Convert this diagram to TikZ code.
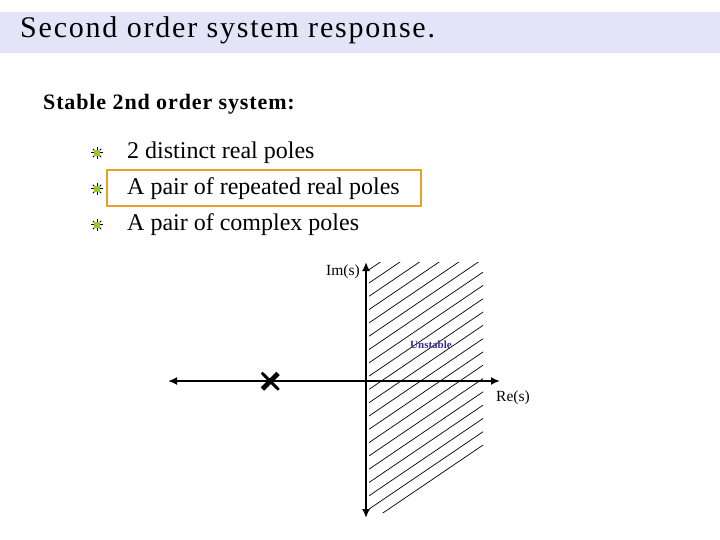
\documentclass[tikz,border=0pt]{standalone}
\usepackage{fontspec}
\setmainfont{Liberation Serif}
\newfontfamily\titlefont[LetterSpace=6]{Liberation Serif}
\newfontfamily\headfont[LetterSpace=4]{Liberation Serif}
\usetikzlibrary{arrows.meta,positioning,shapes.misc}
\definecolor{barlilac}{RGB}{228,228,248}
\definecolor{boxorange}{RGB}{232,160,40}
\definecolor{bulletgreen}{RGB}{150,200,40}
\definecolor{unstblue}{RGB}{50,50,140}
\tikzset{bulletstar/.pic={
  \foreach \a in {0,45,...,315} \draw[line width=1pt] (0,0) -- (\a:6);
  \fill[bulletgreen] (-2.8,-2.8) rectangle (2.8,2.8);}}

\begin{document}
\begin{tikzpicture}[x=1pt,y=-1pt,>={Latex[length=9pt,width=8pt]}]
\tikzstyle{titletext}=[font=\titlefont\fontsize{30}{34}\selectfont,inner sep=0pt,anchor=west]
\tikzstyle{heading}=[font=\headfont\fontsize{22}{26}\selectfont\bfseries,inner sep=0pt,anchor=west]
\tikzstyle{item}=[font=\fontsize{24}{28}\selectfont,inner sep=0pt,anchor=west]
\tikzstyle{axis}=[line width=2.6pt,<->]
\tikzstyle{hatch}=[line width=0.7pt]
\tikzstyle{pole}=[draw,cross out,minimum size=13pt,inner sep=0pt,line width=2.6pt]
\tikzstyle{axlabel}=[font=\fontsize{15.5}{18}\selectfont,inner sep=0pt]
\useasboundingbox (0,0) rectangle (720,540);
% title bar
\fill[barlilac] (0,12) rectangle (720,53);
\node[titletext] (title) at (20,30) {Second order system response.};
\node[heading] (stable) at (43,104) {Stable 2nd order system:};
% list of cases
\node[item] (distinct) at (127,153) {2 distinct real poles};
\node[item,below=36pt of distinct.west,anchor=west] (repeated) {A pair of repeated real poles};
\node[item,below=36pt of repeated.west,anchor=west] (complex) {A pair of complex poles};
\foreach \n in {distinct,repeated,complex}
  \pic at ([xshift=-30pt]\n.west) {bulletstar};
\draw[boxorange,line width=2.4pt] (107,170) rectangle (421,206);
% s-plane
\coordinate (west) at (168,381);
\coordinate (east) at (500,381);
\coordinate (north) at (366,262);
\coordinate (south) at (366,518);
\begin{scope}
  \clip (369,262) rectangle (483,512);
  \foreach \k in {-7,...,18}
    \draw[hatch] (369,283+13.3*\k) -- ++(115,-78);
\end{scope}
\draw[axis] (west) -- (east);
\draw[axis] (south) -- (north);
\node[axlabel,left=6pt of north,anchor=east,yshift=-10pt] (im) {Im(s)};
\node[axlabel,right=-4pt of east,anchor=west,yshift=-17pt] (re) {Re(s)};
\node[font=\fontsize{11}{13}\selectfont\bfseries,text=unstblue,inner sep=0pt] (unstable) at (431,345) {Unstable};
\node[pole] (pole1) at (269.5,380.5) {};
\node[pole] (pole2) at (271,382) {};
\end{tikzpicture}
\end{document}
